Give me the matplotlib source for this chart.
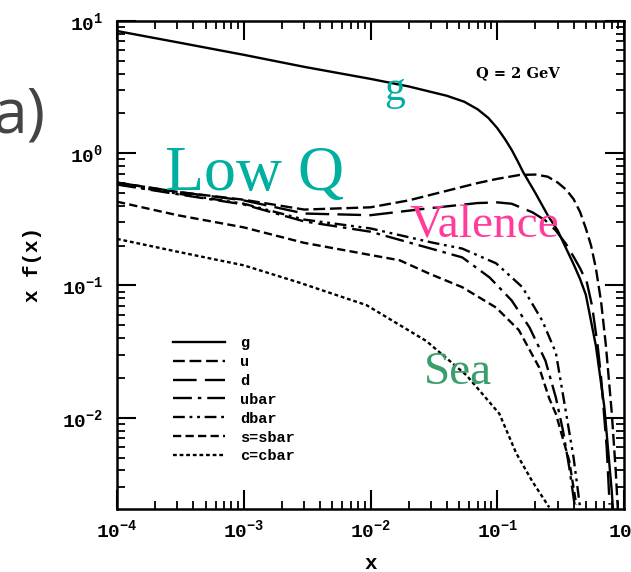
import numpy as np
import matplotlib
matplotlib.use('Agg')
import matplotlib.pyplot as plt
from matplotlib.ticker import LogLocator, FuncFormatter, NullFormatter

# parton distributions x f(x) at Q = 2 GeV
g_x = [1e-4, 3e-4, 1e-3, 3e-3, 1e-2, 0.02, 0.04, 0.055, 0.07, 0.085, 0.1, 0.115,
       0.13, 0.145, 0.16, 0.2, 0.25, 0.3, 0.35, 0.4, 0.45, 0.5, 0.6, 0.7, 0.8, 0.85]
g_y = [8.4, 6.9, 5.55, 4.5, 3.65, 3.2, 2.72, 2.45, 2.15, 1.85, 1.55, 1.28,
       1.06, 0.87, 0.72, 0.5, 0.34, 0.26, 0.19, 0.145, 0.112, 0.085, 0.035, 0.012,
       0.0028, 0.0012]

u_x = [1e-4, 3e-4, 1e-3, 3e-3, 1e-2, 0.02, 0.04, 0.07, 0.1, 0.15, 0.2, 0.25,
       0.3, 0.35, 0.4, 0.45, 0.5, 0.55, 0.6, 0.66, 0.72, 0.8, 0.86, 0.9]
u_y = [0.60, 0.51, 0.445, 0.375, 0.39, 0.44, 0.52, 0.595, 0.64, 0.685, 0.69, 0.665,
       0.6, 0.53, 0.45, 0.36, 0.27, 0.2, 0.135, 0.075, 0.035, 0.011, 0.004, 0.0018]

d_x = [1e-4, 3e-4, 1e-3, 3e-3, 1e-2, 0.03, 0.07, 0.1, 0.13, 0.19, 0.24, 0.29,
       0.35, 0.4, 0.45, 0.51, 0.56, 0.62, 0.66, 0.73, 0.77]
d_y = [0.60, 0.51, 0.44, 0.35, 0.34, 0.385, 0.42, 0.425, 0.415, 0.357, 0.31, 0.26,
       0.205, 0.165, 0.135, 0.105, 0.07, 0.035, 0.02, 0.006, 0.0022]

ubar_x = [1e-4, 3e-4, 1e-3, 3e-3, 1e-2, 0.03, 0.053, 0.087, 0.13, 0.18, 0.24,
          0.29, 0.33, 0.37, 0.42]
ubar_y = [0.58, 0.49, 0.41, 0.305, 0.255, 0.19, 0.163, 0.115, 0.077, 0.048, 0.027,
          0.0142, 0.008, 0.0042, 0.0018]

dbar_x = [1e-4, 3e-4, 1e-3, 3e-3, 1e-2, 0.03, 0.053, 0.098, 0.158, 0.227, 0.29,
          0.35, 0.4, 0.46]
dbar_y = [0.585, 0.495, 0.415, 0.315, 0.27, 0.212, 0.19, 0.147, 0.097, 0.054, 0.031,
          0.0107, 0.005, 0.0018]

s_x = [1e-4, 3e-4, 1e-3, 3e-3, 1e-2, 0.017, 0.029, 0.053, 0.098, 0.148, 0.214,
       0.257, 0.29, 0.37, 0.42]
s_y = [0.43, 0.34, 0.275, 0.21, 0.17, 0.155, 0.123, 0.097, 0.068, 0.046, 0.024,
       0.014, 0.0107, 0.0047, 0.0022]

c_x = [1e-4, 3e-4, 1e-3, 2.75e-3, 9.3e-3, 0.0276, 0.057, 0.104, 0.141, 0.189, 0.257]
c_y = [0.225, 0.18, 0.142, 0.105, 0.071, 0.038, 0.021, 0.0107, 0.0054, 0.0033, 0.0021]

labels = ['g', 'u', 'd', 'ubar', 'dbar', 's=sbar', 'c=cbar']
styles = ['-', (0, (5, 2)), (0, (10, 3.5)), (0, (8, 2.5, 1.5, 2.5)),
          (0, (5, 2, 1.2, 2, 1.2, 2)), (0, (3.5, 1.8)), (0, (1.6, 1.2))]

plt.rcParams['mathtext.fontset'] = 'custom'
plt.rcParams['mathtext.bf'] = 'Liberation Mono:bold'
plt.rcParams['mathtext.rm'] = 'Liberation Mono:bold'

fig = plt.figure(figsize=(6.31, 5.72), dpi=100)
ax = fig.add_axes([117 / 631, 1 - 509 / 572, 507 / 631, 488 / 572])

series = [(g_x, g_y), (u_x, u_y), (d_x, d_y), (ubar_x, ubar_y),
          (dbar_x, dbar_y), (s_x, s_y), (c_x, c_y)]
lines = []
for (xs, ys), lab, ls in zip(series, labels, styles):
    ln, = ax.plot(xs, ys, color='black', lw=1.7, linestyle=ls, label=lab)
    lines.append(ln)

ax.set_xscale('log')
ax.set_yscale('log')
ax.set_xlim(1e-4, 1.0)
ax.set_ylim(2.04e-3, 10)

def dec_label(v, pos):
    return r'$\mathbf{10^{%d}}$' % int(round(np.log10(v)))

for axis in (ax.xaxis, ax.yaxis):
    axis.set_major_locator(LogLocator(base=10, numticks=10))
    axis.set_minor_locator(LogLocator(base=10, subs=np.arange(2, 10), numticks=20))
    axis.set_major_formatter(FuncFormatter(dec_label))
    axis.set_minor_formatter(NullFormatter())

ax.tick_params(which='major', direction='in', length=14, width=1.5,
               top=True, right=True, labelsize=14)
ax.tick_params(which='minor', direction='in', length=5.5, width=1.3,
               top=True, right=True)
ax.tick_params(axis='x', which='major', pad=7)
ax.tick_params(axis='y', which='major', pad=10)
for sp in ax.spines.values():
    sp.set_linewidth(1.8)

ax.set_xlabel('x', fontfamily='Liberation Mono', fontweight='bold',
              fontsize=15, labelpad=9)
ax.set_ylabel('x f(x)', fontfamily='Liberation Mono', fontweight='bold',
              fontsize=15, labelpad=14)

leg = ax.legend(handles=lines, loc='upper left', bbox_to_anchor=(0.095, 0.37),
                frameon=False, handlelength=3.4, handletextpad=1.0,
                labelspacing=0.32, borderpad=0,
                prop={'family': 'Liberation Mono', 'weight': 'bold', 'size': 11})

ax.text(0.708, 0.885, 'Q = 2 GeV', transform=ax.transAxes, fontsize=10.5,
        fontweight='bold', fontfamily='DejaVu Serif')

# coloured annotations
fig.text(165 / 631, 1 - 190 / 572, 'Low Q', color='#00AFA0',
         fontfamily='Liberation Serif', fontsize=46)
fig.text(384 / 631, 1 - 100 / 572, 'g', color='#00AFA0',
         fontfamily='Liberation Serif', fontsize=30)
fig.text(409 / 631, 1 - 238 / 572, 'Valence', color='#FF3C9A',
         fontfamily='Liberation Serif', fontsize=34)
fig.text(424 / 631, 1 - 384 / 572, 'Sea', color='#3A9E6C',
         fontfamily='Liberation Serif', fontsize=34)
fig.text(45 / 631, 1 - 133 / 572, 'a)', color='#444444', ha='right',
         fontfamily='Open Sans', fontsize=45)

fig.savefig('out.png', dpi=100)
